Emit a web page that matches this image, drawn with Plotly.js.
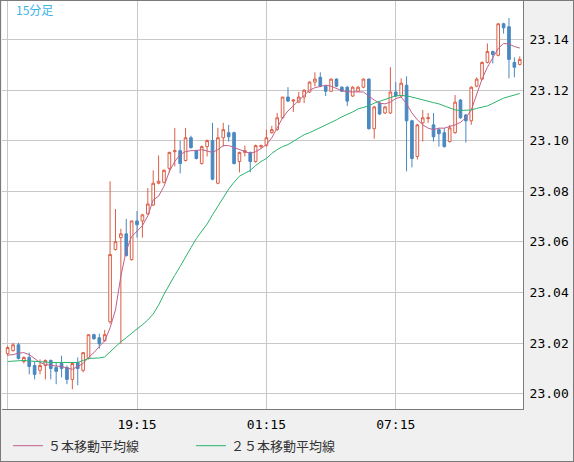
<!DOCTYPE html>
<html>
<head>
<meta charset="utf-8">
<script src="https://cdn.plot.ly/plotly-3.0.1.min.js"></script>
<style>
  html, body { margin: 0; padding: 0; background: #ffffff; }
  #chart { width: 572px; height: 460px; border: 1px solid #7a7a7a; }
</style>
</head>
<body>
<div id="chart"></div>
<script>
// ─── Data (15-minute candles) ────────────────────────────────────────────────

const openPrices = [
  23.0158, 23.0170, 23.0193, 23.0127, 23.0143, 23.0111, 23.0092, 23.0111, 23.0131, 23.0103,
  23.0119, 23.0103, 23.0056, 23.0123, 23.0092, 23.0139, 23.0233, 23.0221, 23.0209, 23.0284,
  23.0570, 23.0617, 23.0632, 23.0530, 23.0683, 23.0683, 23.0711, 23.0746, 23.0832, 23.0836,
  23.0891, 23.0957, 23.0961, 23.0922, 23.1012, 23.0961, 23.0910, 23.0977, 23.1001, 23.0832,
  23.1012, 23.1032, 23.1032, 23.0918, 23.0954, 23.0954, 23.0918, 23.0977, 23.0981, 23.1032,
  23.1044, 23.1091, 23.1173, 23.1157, 23.1153, 23.1173, 23.1193, 23.1232, 23.1251, 23.1216,
  23.1196, 23.1244, 23.1212, 23.1212, 23.1177, 23.1196, 23.1212, 23.1244, 23.1048, 23.1149,
  23.1110, 23.1110, 23.1193, 23.1177, 23.1220, 23.1079, 23.0938, 23.1071, 23.1088, 23.1063,
  23.1044, 23.1032, 23.0997, 23.1032, 23.1161, 23.1102, 23.1079, 23.1216, 23.1244, 23.1310,
  23.1353, 23.1338, 23.1463, 23.1451, 23.1310, 23.1302
];
const highPrices = [
  23.0189, 23.0201, 23.0201, 23.0147, 23.0162, 23.0127, 23.0135, 23.0135, 23.0135, 23.0123,
  23.0150, 23.0111, 23.0123, 23.0143, 23.0162, 23.0233, 23.0237, 23.0237, 23.0252, 23.0840,
  23.0730, 23.0652, 23.0691, 23.0683, 23.0722, 23.0711, 23.0813, 23.0883, 23.0942, 23.0887,
  23.0957, 23.1051, 23.1001, 23.1051, 23.1020, 23.0965, 23.0981, 23.1005, 23.1071, 23.1051,
  23.1071, 23.1063, 23.1036, 23.0957, 23.0981, 23.0957, 23.0985, 23.0985, 23.1044, 23.1059,
  23.1110, 23.1173, 23.1212, 23.1165, 23.1193, 23.1204, 23.1236, 23.1271, 23.1271, 23.1220,
  23.1247, 23.1247, 23.1216, 23.1216, 23.1216, 23.1216, 23.1247, 23.1247, 23.1138, 23.1153,
  23.1138, 23.1291, 23.1232, 23.1247, 23.1255, 23.1083, 23.1067, 23.1122, 23.1110, 23.1110,
  23.1051, 23.1051, 23.1063, 23.1181, 23.1165, 23.1106, 23.1216, 23.1251, 23.1314, 23.1385,
  23.1357, 23.1463, 23.1467, 23.1486, 23.1330, 23.1334
];
const lowPrices = [
  23.0150, 23.0166, 23.0135, 23.0119, 23.0076, 23.0056, 23.0076, 23.0056, 23.0056, 23.0037,
  23.0064, 23.0037, 23.0017, 23.0033, 23.0084, 23.0135, 23.0213, 23.0178, 23.0205, 23.0276,
  23.0566, 23.0197, 23.0542, 23.0526, 23.0617, 23.0617, 23.0707, 23.0742, 23.0828, 23.0832,
  23.0875, 23.0899, 23.0871, 23.0918, 23.0969, 23.0926, 23.0906, 23.0938, 23.0844, 23.0828,
  23.0977, 23.0997, 23.0906, 23.0875, 23.0938, 23.0875, 23.0914, 23.0969, 23.0977, 23.1028,
  23.1040, 23.1087, 23.1153, 23.1114, 23.1149, 23.1149, 23.1189, 23.1216, 23.1212, 23.1177,
  23.1193, 23.1212, 23.1193, 23.1138, 23.1173, 23.1193, 23.1208, 23.1044, 23.1008, 23.1102,
  23.1106, 23.1106, 23.1173, 23.1173, 23.0879, 23.0895, 23.0926, 23.0997, 23.1071, 23.0997,
  23.0977, 23.0973, 23.0993, 23.1028, 23.1087, 23.0993, 23.1063, 23.1212, 23.1240, 23.1306,
  23.1306, 23.1334, 23.1424, 23.1247, 23.1251, 23.1298
];
const closePrices = [
  23.0182, 23.0193, 23.0139, 23.0143, 23.0107, 23.0076, 23.0111, 23.0131, 23.0099, 23.0088,
  23.0099, 23.0056, 23.0119, 23.0099, 23.0162, 23.0233, 23.0217, 23.0197, 23.0233, 23.0550,
  23.0601, 23.0632, 23.0546, 23.0683, 23.0668, 23.0707, 23.0750, 23.0832, 23.0840, 23.0883,
  23.0954, 23.0961, 23.0910, 23.1012, 23.0973, 23.0930, 23.0977, 23.1001, 23.0848, 23.1012,
  23.1044, 23.1016, 23.0910, 23.0954, 23.0961, 23.0918, 23.0981, 23.0981, 23.1012, 23.1044,
  23.1091, 23.1173, 23.1157, 23.1161, 23.1173, 23.1200, 23.1232, 23.1244, 23.1216, 23.1196,
  23.1244, 23.1216, 23.1196, 23.1157, 23.1212, 23.1212, 23.1244, 23.1048, 23.1134, 23.1106,
  23.1134, 23.1193, 23.1177, 23.1228, 23.1079, 23.0930, 23.1063, 23.1091, 23.1091, 23.1016,
  23.1028, 23.0977, 23.1051, 23.1153, 23.1091, 23.1079, 23.1212, 23.1244, 23.1310, 23.1353,
  23.1341, 23.1463, 23.1447, 23.1322, 23.1291, 23.1322
];

// 5-bar and 25-bar moving averages as drawn on the chart
const ma5 = [
  23.0152, 23.0154, 23.0160, 23.0162, 23.0154, 23.0139, 23.0123, 23.0115, 23.0111, 23.0109,
  23.0107, 23.0103, 23.0096, 23.0107, 23.0119, 23.0143, 23.0162, 23.0186, 23.0209, 23.0260,
  23.0331, 23.0464, 23.0566, 23.0621, 23.0644, 23.0664, 23.0703, 23.0766, 23.0781, 23.0820,
  23.0879, 23.0918, 23.0946, 23.0957, 23.0961, 23.0961, 23.0965, 23.0961, 23.0954, 23.0965,
  23.0981, 23.0981, 23.0973, 23.0965, 23.0957, 23.0950, 23.0957, 23.0969, 23.0985, 23.1012,
  23.1051, 23.1091, 23.1118, 23.1138, 23.1161, 23.1181, 23.1200, 23.1210, 23.1216, 23.1220,
  23.1216, 23.1206, 23.1198, 23.1194, 23.1194, 23.1194, 23.1193, 23.1177, 23.1161, 23.1149,
  23.1146, 23.1153, 23.1167, 23.1173, 23.1146, 23.1110, 23.1083, 23.1063, 23.1050, 23.1044,
  23.1050, 23.1050, 23.1055, 23.1063, 23.1073, 23.1091, 23.1122, 23.1185, 23.1244, 23.1291,
  23.1330, 23.1365, 23.1385, 23.1383, 23.1373, 23.1367
];
const ma25 = [
  23.0127, 23.0129, 23.0131, 23.0131, 23.0129, 23.0127, 23.0125, 23.0123, 23.0123, 23.0123,
  23.0123, 23.0123, 23.0123, 23.0123, 23.0131, 23.0139, 23.0140, 23.0141, 23.0145, 23.0166,
  23.0186, 23.0205, 23.0221, 23.0240, 23.0256, 23.0272, 23.0291, 23.0315, 23.0350, 23.0393,
  23.0432, 23.0468, 23.0503, 23.0542, 23.0577, 23.0613, 23.0640, 23.0671, 23.0707, 23.0742,
  23.0773, 23.0809, 23.0836, 23.0860, 23.0871, 23.0883, 23.0902, 23.0918, 23.0930, 23.0950,
  23.0965, 23.0977, 23.0985, 23.0997, 23.1012, 23.1024, 23.1032, 23.1042, 23.1051, 23.1063,
  23.1073, 23.1083, 23.1095, 23.1104, 23.1114, 23.1126, 23.1132, 23.1138, 23.1149, 23.1157,
  23.1163, 23.1171, 23.1178, 23.1179, 23.1178, 23.1173, 23.1167, 23.1161, 23.1157, 23.1151,
  23.1146, 23.1138, 23.1130, 23.1122, 23.1120, 23.1120, 23.1122, 23.1128, 23.1132, 23.1138,
  23.1148, 23.1159, 23.1169, 23.1175, 23.1181, 23.1187
];

// x-axis: bar index of each labelled time (bar 0 = 13:15)
const timeTickBars   = [0, 24, 48, 72];
const timeTickLabels = ['', '19:15', '01:15', '07:15'];
const priceTicks     = [23.00, 23.02, 23.04, 23.06, 23.08, 23.10, 23.12, 23.14];

// ─── Traces ──────────────────────────────────────────────────────────────────

const RED   = '#dc5f46';
const BLUE  = '#4a88c0';
const PINK  = '#c0608c';
const GREEN = '#2db46e';

const traces = [
  {
    type: 'candlestick',
    open: openPrices,
    high: highPrices,
    low: lowPrices,
    close: closePrices,
    increasing: { line: { color: RED, width: 1 }, fillcolor: '#ffffff' },
    decreasing: { line: { color: BLUE, width: 1 }, fillcolor: BLUE },
    whiskerwidth: 0,
    showlegend: false,
    hoverinfo: 'skip',
  },
  {
    type: 'scatter',
    mode: 'lines',
    y: ma5,
    name: '５本移動平均線',
    line: { color: PINK, width: 1 },
    hoverinfo: 'skip',
  },
  {
    type: 'scatter',
    mode: 'lines',
    y: ma25,
    name: '２５本移動平均線',
    line: { color: GREEN, width: 1 },
    hoverinfo: 'skip',
  },
];

const layout = {
  width: 572,
  height: 460,
  margin: { l: 1, r: 50, t: 0, b: 49 },
  paper_bgcolor: '#f0f0f0',
  plot_bgcolor: '#ffffff',
  font: { family: 'DejaVu Sans Mono, monospace', size: 13, color: '#000000' },
  // chart caption sits inside the plot, top-left
  annotations: [{
    text: '15分足',
    xref: 'paper', yref: 'paper',
    x: 12 / 521, y: 1 + 2 / 411,
    xanchor: 'left', yanchor: 'top',
    showarrow: false,
    font: { family: 'Noto Sans CJK JP, sans-serif', size: 12, color: '#3ab4e6' },
  }],
  xaxis: {
    range: [-1.05, 95.6],
    tickvals: timeTickBars,
    ticktext: timeTickLabels,
    showgrid: true,
    gridcolor: '#c8c8c8',
    gridwidth: 1,
    zeroline: false,
    showline: true,
    linecolor: '#7a7a7a',
    linewidth: 1,
    ticks: '',
    ticklabelstandoff: 3,
    rangeslider: { visible: false },
    fixedrange: true,
  },
  yaxis: {
    side: 'right',
    range: [22.9939, 23.1553],
    tickvals: priceTicks,
    tickformat: '.2f',
    showgrid: true,
    gridcolor: '#c8c8c8',
    gridwidth: 1,
    zeroline: false,
    showline: true,
    linecolor: '#7a7a7a',
    linewidth: 1,
    ticks: '',
    ticklabelstandoff: 3,
    fixedrange: true,
  },
  showlegend: true,
  legend: {
    orientation: 'h',
    x: 6 / 521,
    xanchor: 'left',
    y: -37 / 411,
    yanchor: 'middle',
    entrywidth: 138,
    entrywidthmode: 'pixels',
    bgcolor: 'rgba(0,0,0,0)',
    font: { family: 'Noto Sans CJK JP, sans-serif', size: 13, color: '#333333' },
  },
  hovermode: false,
};

Plotly.newPlot('chart', traces, layout, { staticPlot: true, displayModeBar: false });
</script>
</body>
</html>
